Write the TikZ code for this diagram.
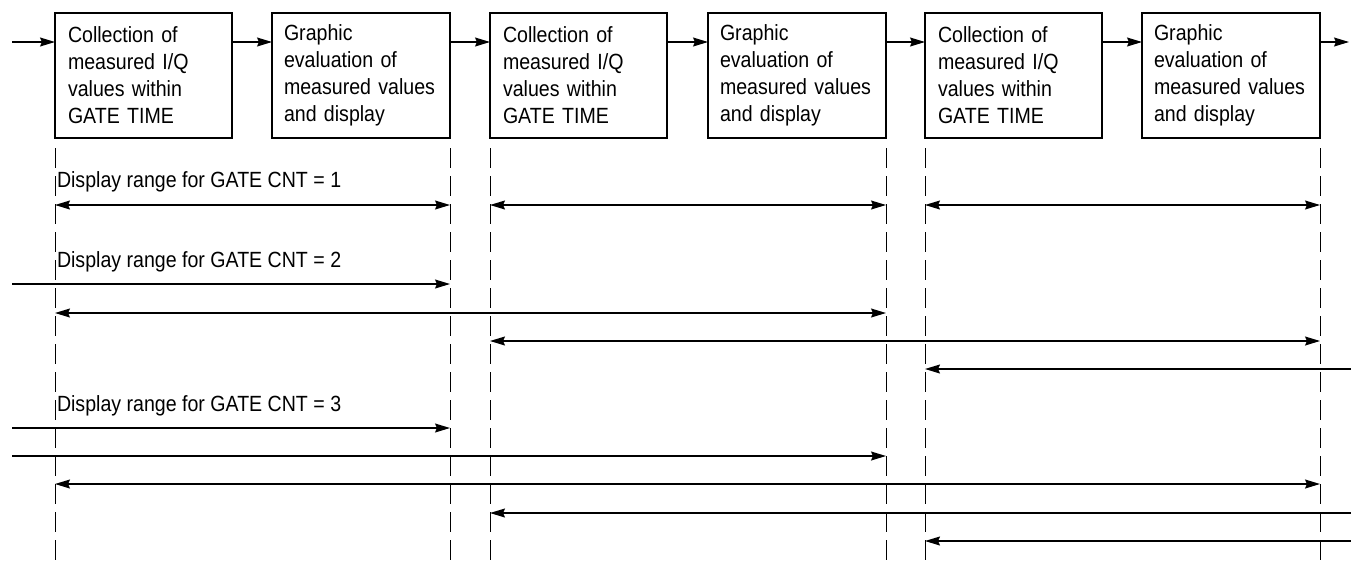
\documentclass[tikz,border=0pt]{standalone}
\usepackage{fontspec}
\setmainfont[FakeStretch=0.89]{Liberation Sans}
\usetikzlibrary{arrows.meta}

\begin{document}
\begin{tikzpicture}[x=1pt, y=-1pt, >={Stealth[length=15pt, width=9pt, inset=2pt]},
        every node/.style={font=\fontsize{22}{27}\selectfont, outer sep=0pt},
        collect/.style={draw, line width=2.2pt, anchor=north west, text width=151pt, minimum height=125pt, inner xsep=13pt, inner ysep=0pt, align=left},
        graphic/.style={collect, line width=1.6pt, text width=154pt, inner xsep=12pt},
        caption/.style={anchor=base west, inner sep=0pt},
        flow/.style={line width=1.2pt, ->},
        span/.style={line width=1.2pt},
        guide/.style={line width=1pt, dash pattern=on 20pt off 8pt}]
        \useasboundingbox (0,0) rectangle (1351,563);
        % processing chain
        \node[collect] (c1) at (55,13) {Collection of\\measured I/Q\\values within\\GATE TIME};
        \node[graphic] (g1) at (272,13) {Graphic\\evaluation of\\measured values\\and display};
        \node[collect] (c2) at (490,13) {Collection of\\measured I/Q\\values within\\GATE TIME};
        \node[graphic] (g2) at (708,13) {Graphic\\evaluation of\\measured values\\and display};
        \node[collect] (c3) at (925,13) {Collection of\\measured I/Q\\values within\\GATE TIME};
        \node[graphic] (g3) at (1142,13) {Graphic\\evaluation of\\measured values\\and display};
        \coordinate (in) at (12,42);
        \coordinate (out) at (1349,42);
        \draw[flow] (in) -- (in -| c1.west);
        \draw[flow] (c1.east |- in) -- (g1.west |- in);
        \draw[flow] (g1.east |- in) -- (c2.west |- in);
        \draw[flow] (c2.east |- in) -- (g2.west |- in);
        \draw[flow] (g2.east |- in) -- (c3.west |- in);
        \draw[flow] (c3.east |- in) -- (g3.west |- in);
        \draw[flow] (g3.east |- in) -- (out);
        % guide lines
        \coordinate (bot) at (0,563);
        \coordinate (lft) at (12,0);
        \coordinate (rgt) at (1351,0);
        \coordinate (d1) at (c1.south west);
        \coordinate (d2) at (g1.south east);
        \coordinate (d3) at (c2.south west);
        \coordinate (d4) at (g2.south east);
        \coordinate (d5) at (c3.south west);
        \coordinate (d6) at (g3.south east);
        \foreach \d in {d1,d2,d3,d4,d5,d6}
            \draw[guide] ([yshift=-10pt]\d) -- (\d |- bot);
        % GATE CNT = 1
        \node[caption] (t1) at (57,187) {Display range for GATE CNT = 1};
        \coordinate (r1) at (0,205);
        \draw[span, <->] (d1 |- r1) -- (d2 |- r1);
        \draw[span, <->] (d3 |- r1) -- (d4 |- r1);
        \draw[span, <->] (d5 |- r1) -- (d6 |- r1);
        % GATE CNT = 2
        \node[caption] (t2) at (57,267) {Display range for GATE CNT = 2};
        \coordinate (r2a) at (0,284);
        \coordinate (r2b) at (0,313);
        \coordinate (r2c) at (0,341);
        \coordinate (r2d) at (0,369);
        \draw[span, ->] (lft |- r2a) -- (d2 |- r2a);
        \draw[span, <->] (d1 |- r2b) -- (d4 |- r2b);
        \draw[span, <->] (d3 |- r2c) -- (d6 |- r2c);
        \draw[span, <-] (d5 |- r2d) -- (rgt |- r2d);
        % GATE CNT = 3
        \node[caption] (t3) at (57,411) {Display range for GATE CNT = 3};
        \coordinate (r3a) at (0,428);
        \coordinate (r3b) at (0,456);
        \coordinate (r3c) at (0,484);
        \coordinate (r3d) at (0,513);
        \coordinate (r3e) at (0,541);
        \draw[span, ->] (lft |- r3a) -- (d2 |- r3a);
        \draw[span, ->] (lft |- r3b) -- (d4 |- r3b);
        \draw[span, <->] (d1 |- r3c) -- (d6 |- r3c);
        \draw[span, <-] (d3 |- r3d) -- (rgt |- r3d);
        \draw[span, <-] (d5 |- r3e) -- (rgt |- r3e);
\end{tikzpicture}
\end{document}
